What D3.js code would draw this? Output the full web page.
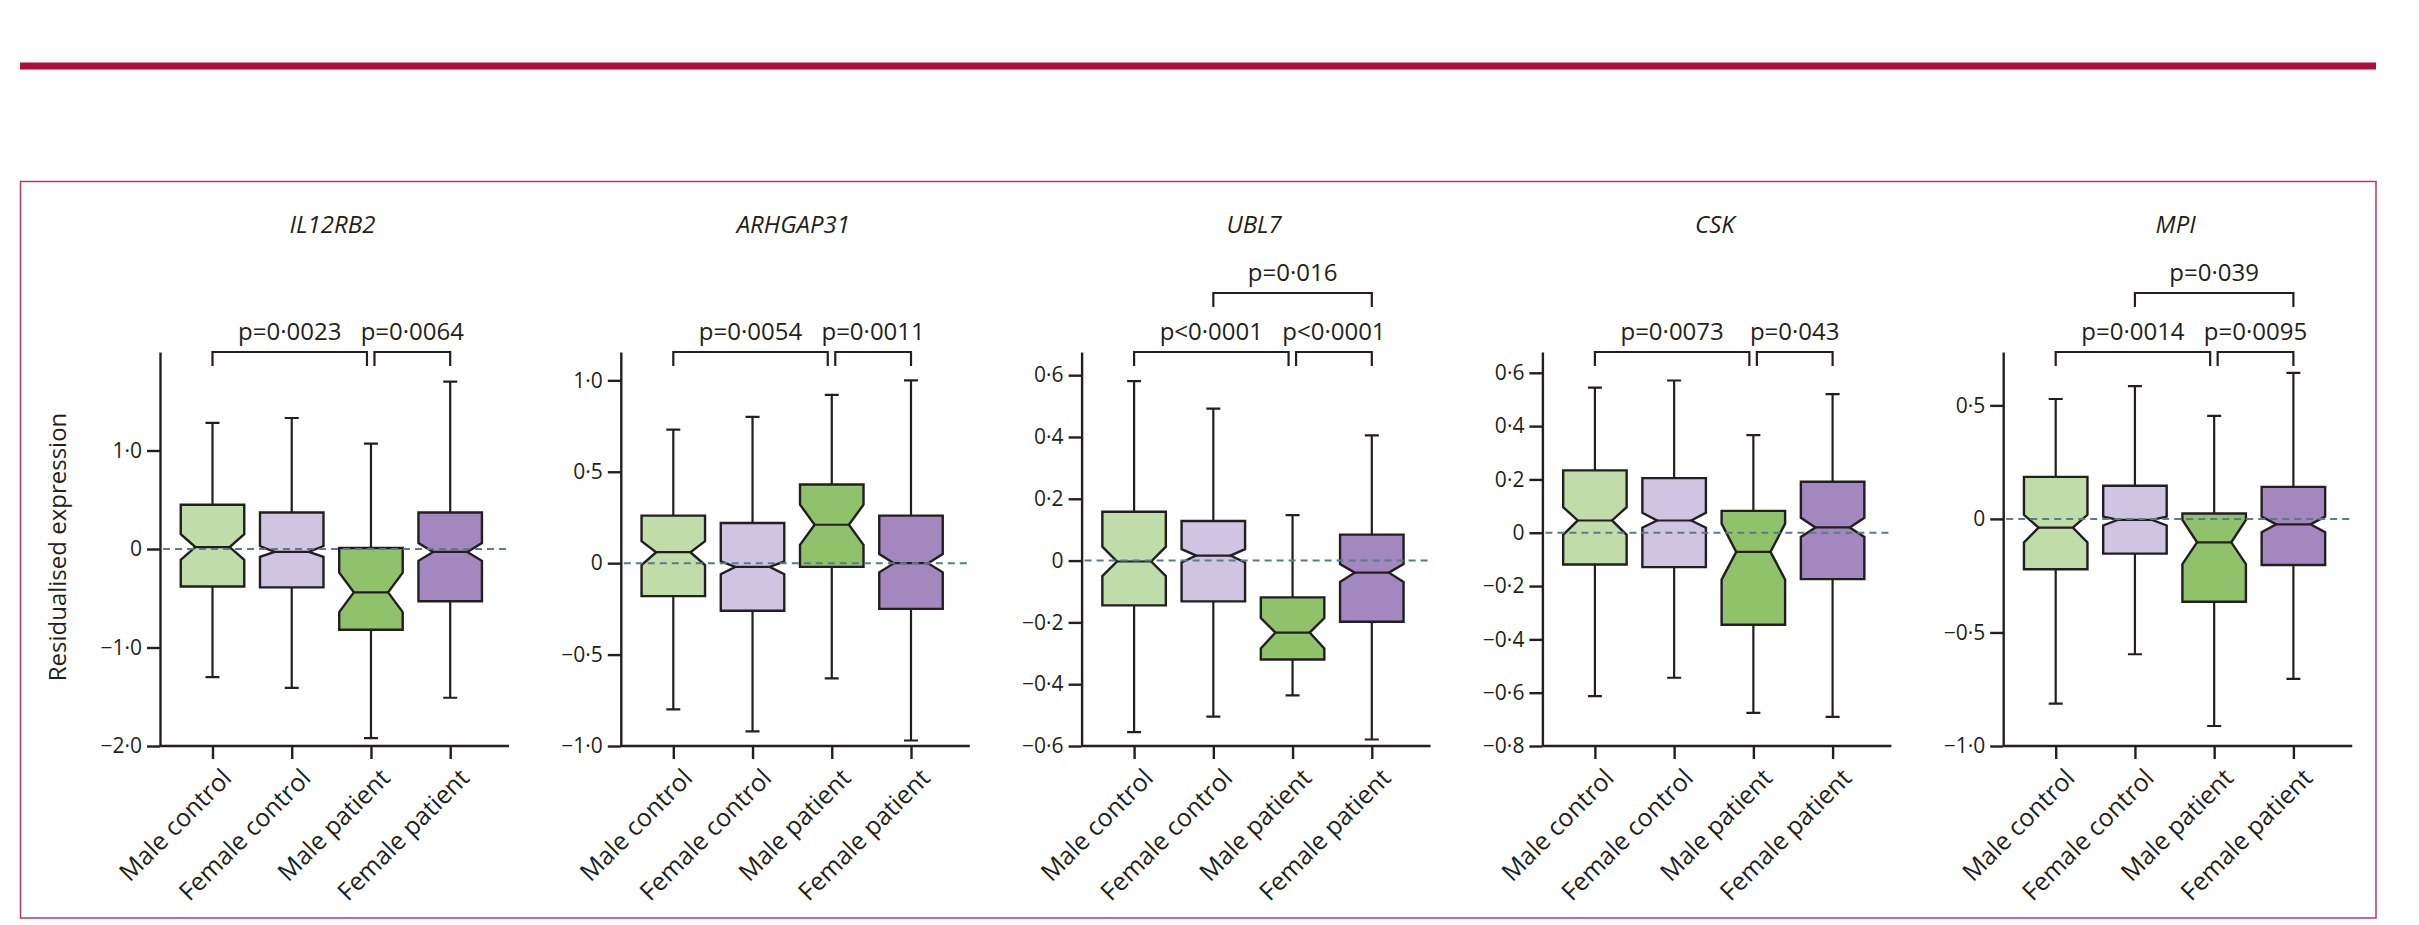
<!DOCTYPE html>
<html>
  <head>
    <meta charset="utf-8">
    <style>
      body { margin: 0; background: #fff; }
      text { font-family: "Open Sans", "DejaVu Sans", sans-serif; fill: #231f20; }
      .axis path, .axis line { stroke: #231f20; stroke-width: 2.4px; }
      .axis text { font-size: 21px; }
      .axis text.xlab { font-size: 25px; }
      .box { stroke: #231f20; stroke-width: 2.4px; stroke-linejoin: miter; }
      .whisker { stroke: #231f20; stroke-width: 2.2px; fill: none; }
      .zero { stroke: #5b7b87; stroke-width: 2px; stroke-dasharray: 7,5; }
      .bracket { fill: none; stroke: #231f20; stroke-width: 2.2px; }
      .ptext { font-size: 24px; }
      .gene { font-size: 24px; font-style: italic; }
    </style>
  </head>
  <body>
    <script src="https://d3js.org/d3.v7.min.js"></script>
    <script type="text/javascript">
      // groups on the x axis of every panel
      var groups = ["Male control", "Female control", "Male patient", "Female patient"];
      var genes = ["IL12RB2", "ARHGAP31", "UBL7", "CSK", "MPI"];
      var groupColors = ["#c0dca8", "#cfc5e3", "#8fc26a", "#a387bf"];

      // box stats per group: [whisker low, Q1, notch low, median, notch high, Q3, whisker high]
      var il12rb2 = [
        [-1.30, -0.38, -0.11, 0.02, 0.15, 0.45, 1.28],
        [-1.41, -0.39, -0.08, -0.03, 0.03, 0.37, 1.33],
        [-1.92, -0.82, -0.64, -0.44, -0.24, 0.01, 1.07],
        [-1.51, -0.53, -0.12, -0.03, 0.06, 0.37, 1.70]
      ];
      var arhgap31 = [
        [-0.80, -0.18, -0.01, 0.06, 0.12, 0.26, 0.73],
        [-0.92, -0.26, -0.06, -0.02, 0.01, 0.22, 0.80],
        [-0.63, -0.02, 0.10, 0.21, 0.32, 0.43, 0.92],
        [-0.97, -0.25, -0.05, 0.00, 0.05, 0.26, 1.00]
      ];
      var ubl7 = [
        [-0.555, -0.145, -0.050, -0.003, 0.045, 0.158, 0.581],
        [-0.505, -0.132, -0.006, 0.016, 0.037, 0.128, 0.492],
        [-0.436, -0.320, -0.284, -0.233, -0.186, -0.119, 0.147],
        [-0.579, -0.198, -0.069, -0.039, -0.011, 0.084, 0.405]
      ];
      var csk = [
        [-0.613, -0.119, -0.008, 0.046, 0.096, 0.234, 0.544],
        [-0.544, -0.129, 0.019, 0.046, 0.075, 0.205, 0.571],
        [-0.676, -0.345, -0.176, -0.072, 0.034, 0.082, 0.366],
        [-0.691, -0.174, -0.016, 0.020, 0.056, 0.191, 0.520]
      ];
      var mpi = [
        [-0.813, -0.222, -0.104, -0.038, 0.018, 0.185, 0.528],
        [-0.596, -0.153, -0.029, -0.004, 0.010, 0.146, 0.585],
        [-0.912, -0.365, -0.199, -0.103, -0.004, 0.024, 0.454],
        [-0.704, -0.203, -0.059, -0.024, 0.010, 0.141, 0.643]
      ];
      var boxStats = [il12rb2, arhgap31, ubl7, csk, mpi];

      // y axis range and ticks per panel
      var yDomains = [[-2, 2], [-1, 1.155], [-0.6, 0.675], [-0.8, 0.678], [-1, 0.735]];
      var yTicks = [
        [-2, -1, 0, 1],
        [-1, -0.5, 0, 0.5, 1],
        [-0.6, -0.4, -0.2, 0, 0.2, 0.4, 0.6],
        [-0.8, -0.6, -0.4, -0.2, 0, 0.2, 0.4, 0.6],
        [-1, -0.5, 0, 0.5]
      ];

      // comparisons: [from group, to group, level, label]
      var comparisons = [
        [[0, 2, 0, "p=0·0023"], [2, 3, 0, "p=0·0064"]],
        [[0, 2, 0, "p=0·0054"], [2, 3, 0, "p=0·0011"]],
        [[0, 2, 0, "p<0·0001"], [2, 3, 0, "p<0·0001"], [1, 3, 1, "p=0·016"]],
        [[0, 2, 0, "p=0·0073"], [2, 3, 0, "p=0·043"]],
        [[0, 2, 0, "p=0·0014"], [2, 3, 0, "p=0·0095"], [1, 3, 1, "p=0·039"]]
      ];

      var W = 2419, H = 925;
      var plotTop = 352, plotBottom = 746, plotWidth = 349;
      var boxW = 63.5, capW = 14;

      var svg = d3.select("body").append("svg")
        .attr("width", W)
        .attr("height", H);

      // header rule and frame
      svg.append("rect")
        .attr("x", 20).attr("y", 62.5)
        .attr("width", 2356).attr("height", 7)
        .attr("fill", "#b00c3c");
      svg.append("rect")
        .attr("x", 20.5).attr("y", 181.5)
        .attr("width", 2355.5).attr("height", 736.5)
        .attr("fill", "none")
        .attr("stroke", "#b8385e")
        .attr("stroke-width", 1.5);

      var fmt = function(d) {
        if (d === 0) return "0";
        return d3.format(".1f")(d).replace(".", "·");
      };

      var x = d3.scalePoint()
        .domain(groups)
        .range([52.5, 290.2]);

      genes.forEach(function(gene, gi) {
        var left = 160 + gi * 460.8;
        var g = svg.append("g")
          .attr("transform", "translate(" + left + ",0)");

        var y = d3.scaleLinear()
          .domain(yDomains[gi])
          .range([plotBottom, plotTop]);

        // gene title
        g.append("text")
          .attr("class", "gene")
          .attr("x", plotWidth / 2 - 2)
          .attr("y", 233)
          .attr("text-anchor", "middle")
          .text(gene);

        // y axis
        g.append("g")
          .attr("class", "axis")
          .call(d3.axisLeft(y)
            .tickValues(yTicks[gi])
            .tickFormat(fmt)
            .tickSize(13)
            .tickSizeOuter(0)
            .tickPadding(5));

        // x axis
        var xa = g.append("g")
          .attr("class", "axis")
          .attr("transform", "translate(0," + plotBottom + ")")
          .call(d3.axisBottom(x).tickSize(13).tickFormat(""));
        xa.select(".domain").remove();
        xa.append("line")
          .attr("x1", 0).attr("x2", plotWidth);

        xa.selectAll(".xlab")
          .data(groups)
          .enter().append("text")
          .attr("class", "xlab")
          .attr("text-anchor", "end")
          .attr("dy", "0.71em")
          .attr("transform", function(d) {
            return "translate(" + (x(d) + 8) + ",21) rotate(-45)";
          })
          .text(function(d) { return d; });

        // boxes
        var stats = boxStats[gi];
        var boxes = g.selectAll(".grp")
          .data(stats)
          .enter().append("g")
          .attr("class", "grp");

        boxes.append("path")
          .attr("class", "whisker")
          .attr("d", function(s, i) {
            var cx = x(groups[i]);
            return "M" + cx + "," + y(s[6]) + "V" + y(s[5]) +
              "M" + cx + "," + y(s[1]) + "V" + y(s[0]) +
              "M" + (cx - capW / 2) + "," + y(s[6]) + "h" + capW +
              "M" + (cx - capW / 2) + "," + y(s[0]) + "h" + capW;
          });

        boxes.append("path")
          .attr("class", "box")
          .attr("fill", function(s, i) { return groupColors[i]; })
          .attr("d", function(s, i) {
            var cx = x(groups[i]);
            var l = cx - boxW / 2, r = cx + boxW / 2, ins = boxW * 0.23;
            return "M" + l + "," + y(s[5]) +
              "L" + r + "," + y(s[5]) +
              "L" + r + "," + y(s[4]) +
              "L" + (r - ins) + "," + y(s[3]) +
              "L" + r + "," + y(s[2]) +
              "L" + r + "," + y(s[1]) +
              "L" + l + "," + y(s[1]) +
              "L" + l + "," + y(s[2]) +
              "L" + (l + ins) + "," + y(s[3]) +
              "L" + l + "," + y(s[4]) + "Z";
          });

        // zero reference line
        g.append("line")
          .attr("class", "zero")
          .attr("x1", 3).attr("x2", plotWidth)
          .attr("y1", y(0)).attr("y2", y(0));

        // medians
        boxes.append("line")
          .attr("class", "whisker")
          .attr("x1", function(s, i) { return x(groups[i]) - boxW / 2 + boxW * 0.23; })
          .attr("x2", function(s, i) { return x(groups[i]) + boxW / 2 - boxW * 0.23; })
          .attr("y1", function(s) { return y(s[3]); })
          .attr("y2", function(s) { return y(s[3]); });

        // significance brackets
        comparisons[gi].forEach(function(c) {
          var x1 = x(groups[c[0]]) + (c[0] === 2 ? 3.5 : 0);
          var x2 = x(groups[c[1]]) - (c[1] === 2 ? 4 : 0);
          var top = plotTop - c[2] * 59;
          g.append("path")
            .attr("class", "bracket")
            .attr("d", "M" + x1 + "," + (top + 14) + "V" + top + "H" + x2 + "V" + (top + 14));
          g.append("text")
            .attr("class", "ptext")
            .attr("x", (x1 + x2) / 2)
            .attr("y", top - 12.5)
            .attr("text-anchor", "middle")
            .text(c[3]);
        });
      });

      // shared y axis title
      svg.append("text")
        .attr("transform", "translate(66,547) rotate(-90)")
        .attr("text-anchor", "middle")
        .style("font-size", "24px")
        .text("Residualised expression");
    </script>
  </body>
</html>
